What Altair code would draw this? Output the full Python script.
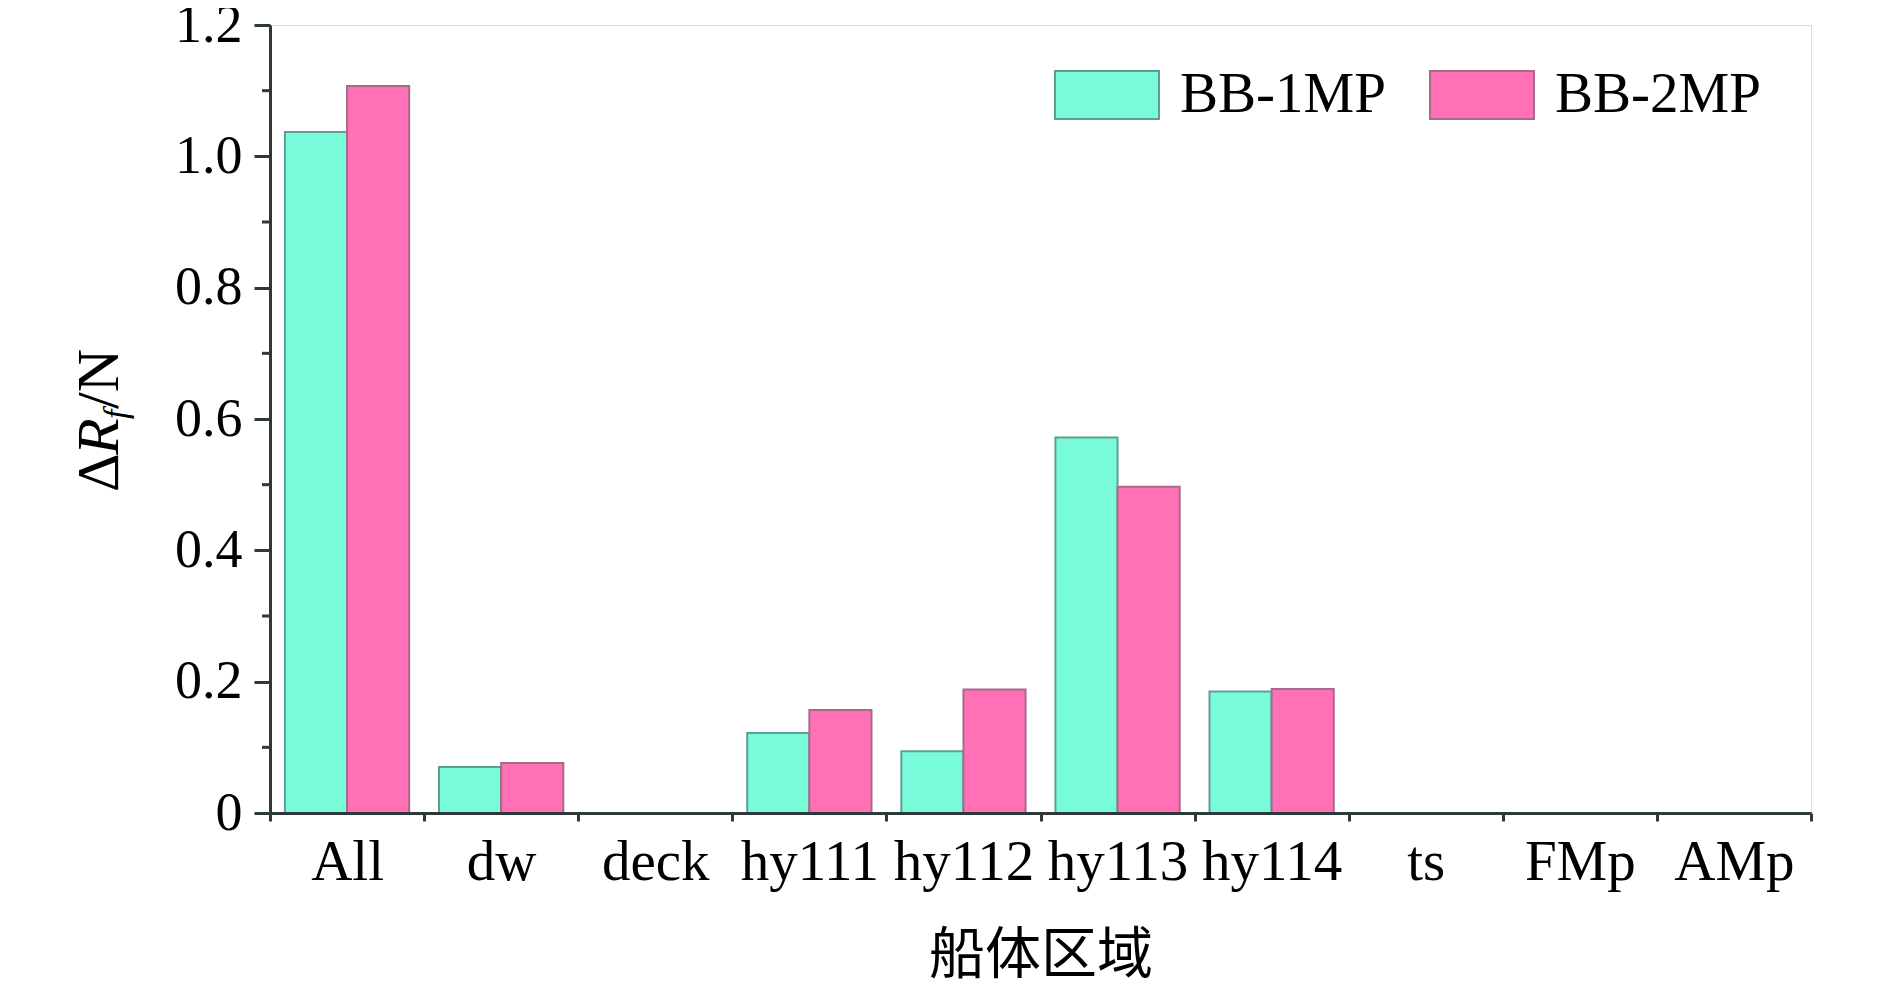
import altair as alt
import pandas as pd

categories = ["All", "dw", "deck", "hy111", "hy112", "hy113", "hy114", "ts", "FMp", "AMp"]
series_names = ["BB-1MP", "BB-2MP"]
bb1 = [1.037, 0.070, 0.0, 0.122, 0.094, 0.572, 0.185, 0.0, 0.0, 0.0]
bb2 = [1.107, 0.076, 0.0, 0.157, 0.188, 0.497, 0.189, 0.0, 0.0, 0.0]
y_ticks = [0, 0.2, 0.4, 0.6, 0.8, 1.0, 1.2]
y_minor = [0.1, 0.3, 0.5, 0.7, 0.9, 1.1]
fill_colors = ["#78FBD8", "#FF70B5"]
stroke_colors = ["#5E9E95", "#A56A8C"]

rows = []
for i, c in enumerate(categories):
    rows.append({"cat": c, "series": series_names[0], "value": bb1[i]})
    rows.append({"cat": c, "series": series_names[1], "value": bb2[i]})
df = pd.DataFrame(rows)

W, H = 1541, 788
SERIF = "Liberation Serif"
FS = 54
FSX = 57
AX = "#2E383B"

yscale = alt.Scale(domain=[0, 1.2], nice=False, zero=True)

legend = alt.Legend(
    title=None, orient="none", legendX=784, legendY=17, direction="horizontal",
    symbolType="M-1,-0.46H1V0.46H-1Z", symbolSize=10816, symbolStrokeWidth=2,
    labelFont=SERIF, labelFontSize=FSX, labelColor="black", labelOffset=20,
    columnPadding=40, labelLimit=400, symbolOpacity=1,
)

bars = alt.Chart(df).mark_bar(strokeWidth=2, opacity=1).encode(
    x=alt.X("cat:N", sort=categories, title="船体区域",
            scale=alt.Scale(paddingInner=0, paddingOuter=0),
            axis=alt.Axis(labelAngle=0, labelFont=SERIF, labelFontSize=FSX, labelColor="black",
                          labelPadding=13, tickBand="extent", tickSize=8, tickWidth=3, tickColor=AX,
                          domainColor=AX, domainWidth=3, zindex=1,
                          titleFont="Noto Sans CJK SC", titleFontSize=56, titleFontWeight="normal",
                          titleColor="black", titlePadding=38)),
    xOffset=alt.XOffset("series:N", sort=series_names,
                        scale=alt.Scale(paddingInner=0, paddingOuter=0.24)),
    y=alt.Y("value:Q", scale=yscale, title=None,
            axis=alt.Axis(values=y_ticks, labelExpr="datum.value == 0 ? '0' : format(datum.value, '.1f')",
                          labelFont=SERIF, labelFontSize=FS, labelColor="black", labelPadding=12,
                          tickSize=16, tickWidth=3, tickColor=AX, domainColor=AX, domainWidth=3,
                          grid=False, zindex=1)),
    fill=alt.Fill("series:N", sort=series_names,
                  scale=alt.Scale(domain=series_names, range=fill_colors), legend=legend),
    stroke=alt.Stroke("series:N", sort=series_names,
                      scale=alt.Scale(domain=series_names, range=stroke_colors), legend=legend),
)

minor = alt.Chart(pd.DataFrame({"value": y_minor})).mark_rule(color=AX, strokeWidth=3).encode(
    y=alt.Y("value:Q", scale=yscale, title=None),
    x=alt.value(-8), x2=alt.value(0),
)

TFS = 60
title_base_x = -152
t_delta = alt.Chart(pd.DataFrame({"t": ["Δ"]})).mark_text(
    font=SERIF, fontSize=TFS, angle=270, align="left", baseline="alphabetic", color="black"
).encode(text="t:N", x=alt.value(title_base_x), y=alt.value(467))
t_r = alt.Chart(pd.DataFrame({"t": ["R"]})).mark_text(
    font=SERIF, fontSize=TFS, fontStyle="italic", angle=270, align="left", baseline="alphabetic", color="black"
).encode(text="t:N", x=alt.value(title_base_x), y=alt.value(430))
t_f = alt.Chart(pd.DataFrame({"t": ["f"]})).mark_text(
    font=SERIF, fontSize=34, fontStyle="italic", angle=270, align="left", baseline="alphabetic", color="black"
).encode(text="t:N", x=alt.value(title_base_x + 9), y=alt.value(394))
t_n = alt.Chart(pd.DataFrame({"t": ["/N"]})).mark_text(
    font=SERIF, fontSize=TFS, angle=270, align="left", baseline="alphabetic", color="black"
).encode(text="t:N", x=alt.value(title_base_x), y=alt.value(384))

chart = alt.layer(bars, minor, t_delta, t_r, t_f, t_n).properties(
    width=W, height=H,
    autosize=alt.AutoSizeParams(type="none"),
    padding={"left": 262, "top": 17, "right": 71, "bottom": 174},
).configure_view(stroke=None).configure(background="white")

chart.save("out.html", embed_options={"renderer": "svg", "actions": False})
